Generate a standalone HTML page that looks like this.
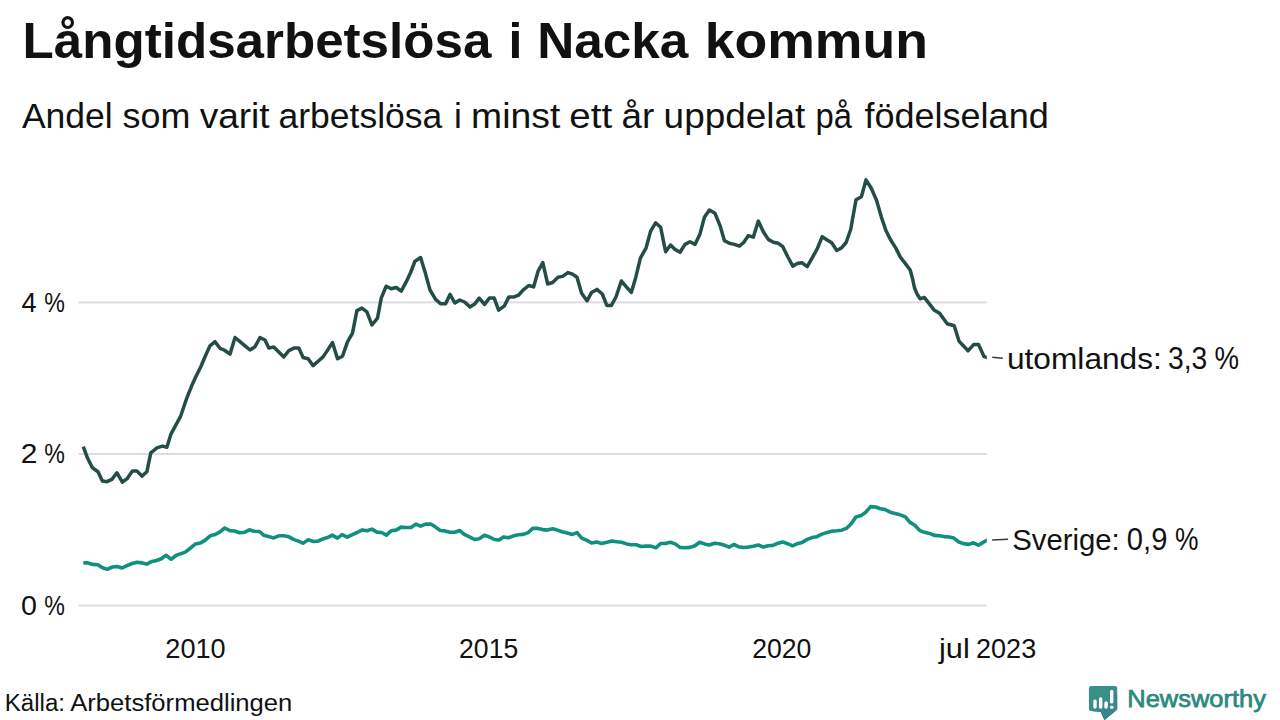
<!DOCTYPE html>
<html><head><meta charset="utf-8">
<style>
html,body{margin:0;padding:0;background:#fff;width:1280px;height:720px;overflow:hidden}
svg{display:block}
text{font-family:"Liberation Sans",sans-serif;fill:#111}
.b{font-weight:bold}
.nw{fill:#2c897d;stroke:#2c897d;stroke-width:0.75px}
</style></head><body>
<svg width="1280" height="720" viewBox="0 0 1280 720">
<rect width="1280" height="720" fill="#fff"/>
<text x="22.57" y="57.60" font-size="50.00" textLength="468.77" lengthAdjust="spacingAndGlyphs" class="b">Långtidsarbetslösa</text>
<text x="508.47" y="57.60" font-size="50.00" textLength="13.89" lengthAdjust="spacingAndGlyphs" class="b">i</text>
<text x="537.16" y="57.60" font-size="50.00" textLength="151.17" lengthAdjust="spacingAndGlyphs" class="b">Nacka</text>
<text x="704.65" y="57.60" font-size="50.00" textLength="223.38" lengthAdjust="spacingAndGlyphs" class="b">kommun</text>
<text x="21.93" y="127.50" font-size="35.30" textLength="90.77" lengthAdjust="spacingAndGlyphs">Andel</text>
<text x="122.60" y="127.50" font-size="35.30" textLength="67.78" lengthAdjust="spacingAndGlyphs">som</text>
<text x="199.65" y="127.50" font-size="35.30" textLength="70.01" lengthAdjust="spacingAndGlyphs">varit</text>
<text x="278.51" y="127.50" font-size="35.30" textLength="163.88" lengthAdjust="spacingAndGlyphs">arbetslösa</text>
<text x="454.08" y="127.50" font-size="35.30" textLength="7.84" lengthAdjust="spacingAndGlyphs">i</text>
<text x="471.14" y="127.50" font-size="35.30" textLength="89.13" lengthAdjust="spacingAndGlyphs">minst</text>
<text x="569.38" y="127.50" font-size="35.30" textLength="42.88" lengthAdjust="spacingAndGlyphs">ett</text>
<text x="621.45" y="127.50" font-size="35.30" textLength="32.78" lengthAdjust="spacingAndGlyphs">år</text>
<text x="663.60" y="127.50" font-size="35.30" textLength="141.66" lengthAdjust="spacingAndGlyphs">uppdelat</text>
<text x="815.50" y="127.50" font-size="35.30" textLength="36.51" lengthAdjust="spacingAndGlyphs">på</text>
<text x="864.50" y="127.50" font-size="35.30" textLength="184.22" lengthAdjust="spacingAndGlyphs">födelseland</text>
<text x="21.57" y="311.75" font-size="27.00" textLength="15.12" lengthAdjust="spacingAndGlyphs">4</text>
<text x="44.16" y="311.75" font-size="27.00" textLength="20.65" lengthAdjust="spacingAndGlyphs">%</text>
<text x="20.70" y="462.80" font-size="27.00" textLength="16.71" lengthAdjust="spacingAndGlyphs">2</text>
<text x="44.16" y="462.80" font-size="27.00" textLength="20.65" lengthAdjust="spacingAndGlyphs">%</text>
<text x="21.08" y="614.50" font-size="27.00" textLength="15.94" lengthAdjust="spacingAndGlyphs">0</text>
<text x="44.16" y="614.50" font-size="27.00" textLength="20.65" lengthAdjust="spacingAndGlyphs">%</text>
<text x="165.34" y="658.00" font-size="27.00" textLength="60.33" lengthAdjust="spacingAndGlyphs">2010</text>
<text x="459.07" y="658.00" font-size="27.00" textLength="59.16" lengthAdjust="spacingAndGlyphs">2015</text>
<text x="752.17" y="658.00" font-size="27.00" textLength="59.18" lengthAdjust="spacingAndGlyphs">2020</text>
<text x="939.04" y="658.00" font-size="27.00" textLength="30.74" lengthAdjust="spacingAndGlyphs">jul</text>
<text x="976.05" y="658.00" font-size="27.00" textLength="60.16" lengthAdjust="spacingAndGlyphs">2023</text>
<text x="1006.94" y="368.70" font-size="29.80" textLength="154.93" lengthAdjust="spacingAndGlyphs">utomlands:</text>
<text x="1167.93" y="368.80" font-size="31.50" textLength="39.32" lengthAdjust="spacingAndGlyphs">3,3</text>
<text x="1214.61" y="368.80" font-size="31.50" textLength="24.57" lengthAdjust="spacingAndGlyphs">%</text>
<text x="1012.25" y="550.00" font-size="29.80" textLength="107.40" lengthAdjust="spacingAndGlyphs">Sverige:</text>
<text x="1126.86" y="550.00" font-size="31.50" textLength="40.51" lengthAdjust="spacingAndGlyphs">0,9</text>
<text x="1175.05" y="550.00" font-size="31.50" textLength="23.48" lengthAdjust="spacingAndGlyphs">%</text>
<text x="4.83" y="710.90" font-size="23.50" textLength="60.15" lengthAdjust="spacingAndGlyphs">Källa:</text>
<text x="70.25" y="710.90" font-size="23.50" textLength="222.03" lengthAdjust="spacingAndGlyphs">Arbetsförmedlingen</text>
<text x="1127.31" y="707.20" font-size="24.60" textLength="138.63" lengthAdjust="spacingAndGlyphs" class="nw">Newsworthy</text>
<g fill="#dddce3">
<rect x="78.4" y="301.4" width="908.4" height="2"/>
<rect x="78.4" y="453" width="908.4" height="2"/>
<rect x="78.4" y="604.5" width="908.4" height="2"/>
</g>

<defs><clipPath id="pc"><rect x="0" y="0" width="986.8" height="720"/></clipPath></defs>
<g clip-path="url(#pc)">
<polyline fill="none" stroke="#12907f" stroke-width="3.6" stroke-linejoin="round" stroke-linecap="butt" points="83.3,562.9 87.9,562.9 93.0,564.4 97.8,564.8 102.5,567.8 107.2,569.3 112.4,567.0 117.1,566.5 122.2,568.0 127.0,565.7 132.1,563.5 137.3,562.2 142.0,562.9 146.7,564.1 151.9,561.4 156.6,560.5 161.3,558.8 166.1,555.3 171.2,559.2 176.4,555.3 181.1,553.6 185.2,552.1 190.3,548.2 195.5,543.9 200.2,543.1 205.3,540.1 210.1,535.8 215.2,534.5 220.0,531.9 224.7,528.0 229.8,530.6 234.6,531.0 239.7,532.8 244.4,532.3 249.2,529.8 254.3,531.3 259.5,531.5 263.8,535.3 268.5,536.6 273.6,537.9 278.8,535.8 284.0,535.8 288.9,536.8 293.6,539.4 298.3,541.1 303.0,543.2 308.2,539.8 313.4,541.5 318.1,541.1 322.8,538.9 327.5,537.6 332.3,535.1 337.4,538.1 342.1,534.6 347.3,537.2 352.4,534.6 357.2,532.5 362.3,529.9 367.0,530.8 371.8,529.1 376.9,532.1 381.6,532.5 386.4,535.1 391.1,530.8 396.0,530.1 401.2,527.1 406.3,527.5 411.0,527.5 415.8,524.1 420.5,526.2 425.7,524.1 430.8,524.1 435.5,527.1 440.3,530.5 445.0,530.9 450.1,532.2 454.9,532.2 459.6,530.5 464.3,534.4 469.5,536.9 474.6,539.5 479.3,538.7 484.5,535.2 489.2,536.9 494.4,539.5 498.9,540.0 503.6,536.9 508.3,537.8 513.0,536.1 518.2,534.8 523.4,534.4 528.1,532.6 532.8,528.4 538.0,528.4 542.7,529.6 547.4,530.1 552.6,528.8 557.3,530.1 562.0,531.8 567.2,533.1 572.3,534.4 577.0,532.6 581.8,538.2 586.9,540.4 591.6,543.0 596.8,542.1 601.5,543.4 606.9,542.2 612.0,540.9 616.8,541.8 621.5,542.2 626.6,543.9 631.4,544.8 636.1,544.8 641.2,546.5 646.0,546.1 650.7,546.1 655.8,547.8 660.6,543.5 665.3,543.5 670.4,542.2 675.2,543.9 679.9,547.4 685.1,547.8 690.2,547.4 694.9,545.7 699.7,542.2 704.4,543.9 709.3,545.0 714.5,543.2 719.2,543.7 723.9,545.0 729.1,547.1 733.8,544.5 738.5,546.7 743.7,547.5 748.4,547.1 753.1,546.2 758.3,545.0 763.4,547.1 768.1,545.8 772.9,545.4 778.0,543.2 782.7,541.9 787.5,543.7 792.6,545.8 797.4,543.7 802.1,542.4 807.2,539.4 812.0,537.6 816.9,536.7 822.0,534.1 827.2,532.4 832.3,531.1 837.1,530.7 841.8,530.2 846.9,528.1 851.2,523.8 856.0,516.9 861.1,515.6 865.8,512.2 870.6,506.6 875.7,507.0 880.4,508.7 885.2,509.6 890.3,512.2 895.1,513.5 900.2,514.8 905.4,516.9 909.7,522.1 914.8,525.2 919.5,530.3 924.5,532.3 929.6,533.4 934.3,535.4 939.4,535.8 944.1,536.6 949.1,537.0 953.8,538.1 958.9,542.0 963.6,543.6 968.7,544.4 973.4,542.8 978.4,545.2 983.1,542.4 988.5,539.4"/>
<polyline fill="none" stroke="#234d46" stroke-width="3.5" stroke-linejoin="round" stroke-linecap="butt" points="83.3,446.7 87.4,457.8 92.4,467.8 98.0,471.7 102.4,481.1 106.9,481.7 111.9,479.4 116.9,472.8 122.4,482.2 127.4,478.3 132.4,471.1 136.9,471.1 141.9,476.1 146.9,471.7 150.8,452.8 156.9,447.8 162.4,446.1 166.9,447.2 170.8,434.4 180.8,415.8 186.7,398.3 191.7,385.8 195.8,376.7 200.8,366.7 205.0,356.7 210.0,345.8 215.0,341.7 220.0,348.3 224.2,350.0 230.0,354.2 235.0,337.5 240.0,341.7 245.0,345.8 250.0,350.0 255.0,346.7 260.0,337.5 265.0,340.0 268.8,348.1 273.8,346.9 278.8,351.9 283.8,356.9 288.8,350.6 293.8,348.1 298.8,348.1 303.1,357.5 308.1,358.8 313.1,365.6 318.1,361.2 323.1,356.9 328.1,349.4 332.5,342.5 337.5,358.8 342.5,356.2 347.5,341.9 352.5,333.1 356.9,310.6 361.9,308.1 366.9,311.9 371.9,325.0 377.5,318.1 381.2,298.1 386.2,286.2 391.2,288.8 396.2,287.5 401.2,291.2 406.2,281.9 410.6,272.5 415.0,261.2 420.6,257.5 425.0,271.9 430.0,290.0 435.6,299.4 440.6,303.8 445.6,303.8 450.0,294.4 454.9,303.0 459.7,300.0 464.6,302.0 469.9,306.9 474.8,303.9 479.2,298.1 484.5,304.4 489.4,298.1 494.2,298.1 498.6,310.2 504.4,305.9 508.8,297.1 513.7,297.1 518.5,295.2 523.4,289.8 528.7,285.5 533.6,286.9 538.0,271.4 542.8,262.6 547.7,284.0 552.6,282.5 558.0,277.2 562.6,276.4 567.9,272.6 572.5,274.1 577.0,277.2 581.6,293.2 587.0,300.8 591.6,292.4 596.9,289.4 602.3,294.0 606.8,305.4 611.4,305.4 616.0,297.0 621.3,281.0 625.9,286.3 631.3,292.4 635.8,277.2 640.4,258.1 646.1,247.8 650.6,231.1 655.6,222.8 660.6,227.2 665.6,251.7 670.6,245.0 675.0,249.4 680.0,252.2 685.0,244.4 690.0,241.7 695.0,244.4 700.0,233.9 704.4,217.2 709.4,210.0 715.0,213.3 720.0,225.6 724.4,240.6 729.4,243.3 734.4,244.4 739.4,246.1 743.9,242.2 748.3,235.6 753.3,237.2 758.3,221.1 763.3,231.7 768.3,239.4 773.3,242.2 778.3,243.3 782.8,246.7 787.8,256.7 792.8,266.1 797.8,263.3 802.2,262.8 807.2,266.7 812.2,257.8 817.2,248.9 822.2,236.7 827.2,240.0 831.7,242.8 836.8,250.5 841.7,247.7 846.1,242.5 850.7,229.5 856.0,199.8 861.4,196.7 866.0,179.9 871.3,188.3 876.6,200.5 881.2,216.6 885.8,230.3 890.4,239.5 895.7,247.9 900.3,257.0 905.6,263.9 910.2,270.0 912.6,279.0 914.4,287.5 917.2,294.3 920.1,298.8 924.3,297.4 934.0,309.9 939.6,313.3 947.2,323.8 954.2,325.8 959.0,341.1 968.0,350.8 973.6,344.6 978.5,344.6 984.0,356.4 988.0,358.0"/>
</g>
<line x1="992.3" y1="357.2" x2="1002.8" y2="358.2" stroke="#3a3a3a" stroke-width="1.5"/>
<line x1="992.1" y1="540.1" x2="1008" y2="539.3" stroke="#3a3a3a" stroke-width="1.5"/>

<defs><clipPath id="lc"><path d="M1091,686 H1115 Q1117.2,686 1117.2,688.2 V709.5 L1104.4,720 L1100.8,712 L1091,711 Q1088.9,711 1088.9,709 V688.2 Q1088.9,686 1091,686 Z"/></clipPath></defs>
<g>
<path d="M1091,686 H1115 Q1117.2,686 1117.2,688.2 V709.5 L1104.4,720 L1100.8,712 L1091,711 Q1088.9,711 1088.9,709 V688.2 Q1088.9,686 1091,686 Z" fill="#3a8f86"/>
<g clip-path="url(#lc)" fill="#3a868a">
<polygon points="1096.7,700 1126.7,730 1093.3,738.6 1093.3,708.6"/>
<polygon points="1102.3,698 1132.3,728 1098.9,738.6 1098.9,708.6"/>
<polygon points="1107.8,702 1137.8,732 1104.4,738.6 1104.4,708.6"/>
<polygon points="1113.6,690.5 1143.6,720.5 1110,738.6 1110,708.6"/>
</g>
<rect x="1093.3" y="699.4" width="3.4" height="9.4" rx="1.7" fill="#fff"/>
<rect x="1098.9" y="697.2" width="3.5" height="11.6" rx="1.75" fill="#fff"/>
<rect x="1104.3" y="701.3" width="3.5" height="7.5" rx="1.75" fill="#fff"/>
<rect x="1110" y="689.7" width="3.4" height="13.9" rx="1.7" fill="#fff"/>
<circle cx="1111.75" cy="707.2" r="1.75" fill="#fff"/>
</g>
</svg>
</body></html>
